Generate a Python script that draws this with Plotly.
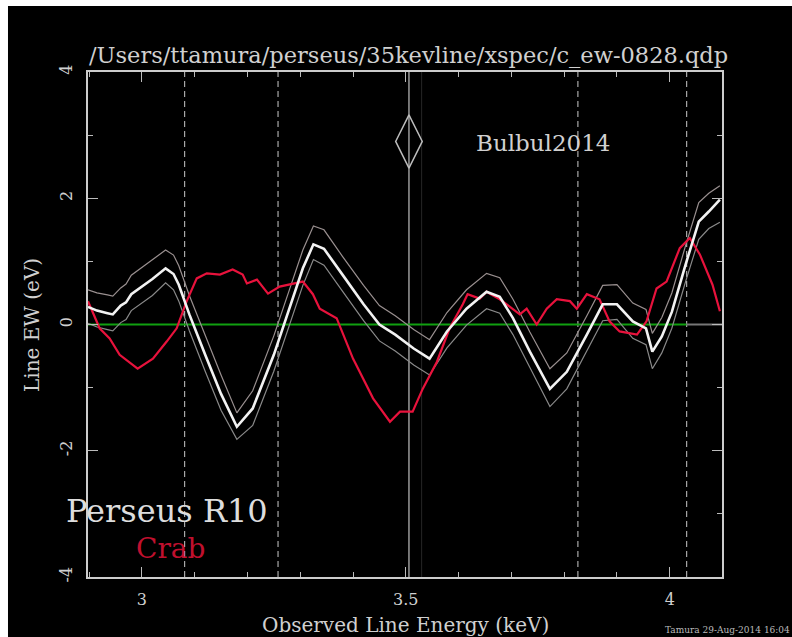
import plotly.graph_objects as go

# ---------------- data ----------------
white_E = [2.898, 2.915, 2.935, 2.945, 2.960, 2.970, 2.980, 3.000, 3.020, 3.045, 3.060, 3.070,
           3.090, 3.120, 3.150, 3.180, 3.210, 3.250, 3.280, 3.305, 3.325, 3.345, 3.380, 3.420,
           3.450, 3.480, 3.515, 3.545, 3.578, 3.615, 3.653, 3.678, 3.703, 3.735, 3.773, 3.805,
           3.843, 3.873, 3.900, 3.930, 3.955, 3.967, 3.985, 4.004, 4.030, 4.055, 4.074, 4.095]
white_EW = [0.28, 0.22, 0.18, 0.16, 0.30, 0.35, 0.48, 0.60, 0.72, 0.89, 0.80, 0.63,
            0.16, -0.48, -1.10, -1.62, -1.33, -0.48, 0.25, 0.89, 1.27, 1.20, 0.79, 0.32,
            0.00, -0.16, -0.38, -0.54, -0.11, 0.25, 0.52, 0.44, 0.10, -0.43, -1.02, -0.75,
            -0.16, 0.32, 0.32, 0.05, -0.06, -0.43, -0.19, 0.20, 0.95, 1.63, 1.79, 1.98]
upper_EW = [0.55, 0.50, 0.47, 0.45, 0.58, 0.64, 0.78, 0.90, 1.02, 1.18, 1.10, 0.93,
            0.46, -0.18, -0.80, -1.40, -1.05, -0.18, 0.55, 1.18, 1.56, 1.50, 1.08, 0.62,
            0.30, 0.14, -0.08, -0.24, 0.19, 0.55, 0.81, 0.74, 0.40, -0.12, -0.70, -0.45,
            0.14, 0.62, 0.63, 0.34, 0.24, -0.14, 0.11, 0.50, 1.25, 1.93, 2.08, 2.20]
lower_EW = [0.02, -0.04, -0.08, -0.10, 0.03, 0.08, 0.22, 0.34, 0.46, 0.66, 0.55, 0.37,
            -0.10, -0.74, -1.36, -1.82, -1.60, -0.74, -0.01, 0.62, 1.03, 0.94, 0.53, 0.06,
            -0.26, -0.42, -0.64, -0.80, -0.37, -0.01, 0.25, 0.18, -0.16, -0.69, -1.30, -1.02,
            -0.42, 0.06, 0.08, -0.22, -0.32, -0.70, -0.45, -0.06, 0.68, 1.35, 1.52, 1.62]

crab_E = [2.898, 2.920, 2.939, 2.958, 2.992, 3.021, 3.047, 3.066, 3.085, 3.104, 3.123, 3.148,
          3.172, 3.191, 3.199, 3.218, 3.239, 3.261, 3.305, 3.324, 3.337, 3.369, 3.400, 3.438,
          3.470, 3.489, 3.513, 3.532, 3.559, 3.583, 3.608, 3.617, 3.640, 3.653, 3.678, 3.703,
          3.716, 3.729, 3.748, 3.767, 3.786, 3.811, 3.824, 3.843, 3.867, 3.886, 3.905, 3.938,
          3.956, 3.975, 3.994, 4.019, 4.038, 4.057, 4.081, 4.095]
crab_EW = [0.37, -0.06, -0.22, -0.48, -0.70, -0.54, -0.27, -0.06, 0.37, 0.73, 0.81, 0.79,
           0.87, 0.79, 0.65, 0.71, 0.49, 0.60, 0.68, 0.48, 0.25, 0.10, -0.54, -1.17,
           -1.54, -1.38, -1.38, -1.02, -0.59, -0.06, 0.32, 0.48, 0.41, 0.52, 0.40, 0.25,
           0.16, 0.25, 0.00, 0.25, 0.40, 0.37, 0.25, 0.48, 0.40, 0.05, -0.11, -0.16,
           0.05, 0.57, 0.68, 1.21, 1.37, 1.11, 0.63, 0.21]

zero_green_E = [2.898, 4.032]
zero_grey_E = [4.032, 4.099]

dashed_line_E = [3.081, 3.258, 3.826, 4.032]
bulbul_line_E = [3.506]
faint_line_E = [3.530]
bulbul_point = (3.506, 2.9)

x_ticks = [3, 3.5, 4]
x_ticklabels = ["3", "3.5", "4"]
y_ticks = [-4, -2, 0, 2, 4]
y_ticklabels = ["-4", "-2", "0", "2", "4"]

FONT = "DejaVu Serif"
FG = "#d0d0d0"

fig = go.Figure()
fig.add_trace(go.Scatter(x=zero_green_E, y=[0, 0], mode="lines",
                         line=dict(color="#10a010", width=2), showlegend=False))
fig.add_trace(go.Scatter(x=zero_grey_E, y=[0, 0], mode="lines",
                         line=dict(color="#777777", width=2), showlegend=False))
fig.add_trace(go.Scatter(x=white_E, y=lower_EW, mode="lines",
                         line=dict(color="#8a8a8a", width=1.2), showlegend=False))
fig.add_trace(go.Scatter(x=white_E, y=upper_EW, mode="lines",
                         line=dict(color="#9a9090", width=1.2), showlegend=False))
fig.add_trace(go.Scatter(x=crab_E, y=crab_EW, mode="lines",
                         line=dict(color="#e8123c", width=2.2), showlegend=False))
fig.add_trace(go.Scatter(x=white_E, y=white_EW, mode="lines",
                         line=dict(color="#f2f2f2", width=2.6), showlegend=False))
fig.add_trace(go.Scatter(x=[bulbul_point[0]], y=[bulbul_point[1]], mode="markers",
                         marker=dict(symbol="diamond-tall-open", size=38,
                                     color="#bbbbbb", line=dict(color="#bbbbbb", width=1.5)),
                         showlegend=False))

shapes = []
for e in dashed_line_E:
    shapes.append(dict(type="line", xref="x", yref="paper", x0=e, x1=e, y0=0, y1=1,
                       line=dict(color="#a8a8a8", width=1.2, dash="6px,4px"), layer="below"))
for e in bulbul_line_E:
    shapes.append(dict(type="line", xref="x", yref="paper", x0=e, x1=e, y0=0, y1=1,
                       line=dict(color="#9a9a9a", width=1.5), layer="below"))
for e in faint_line_E:
    shapes.append(dict(type="line", xref="x", yref="paper", x0=e, x1=e, y0=0, y1=1,
                       line=dict(color="#262626", width=1), layer="below"))
# white page borders (left and top) of the original screenshot
shapes.append(dict(type="rect", xref="paper", yref="paper", x0=-0.15, x1=-0.1262,
                   y0=-0.2, y1=1.2, fillcolor="white", line=dict(width=0)))
shapes.append(dict(type="rect", xref="paper", yref="paper", x0=-0.15, x1=1.2,
                   y0=1.1307, y1=1.2, fillcolor="white", line=dict(width=0)))


def ann(text, x, y, size, color, **kw):
    d = dict(text=text, x=x, y=y, xref="paper", yref="paper", showarrow=False,
             xanchor="center", yanchor="middle",
             font=dict(family=FONT, size=size, color=color))
    d.update(kw)
    return d


annotations = [
    ann("/Users/ttamura/perseus/35kevline/xspec/c_ew-0828.qdp", 0.506, 1.0337, 22.5, FG),
    ann("Bulbul2014", 0.7177, 0.8594, 23, FG),
    ann("Perseus R10", 0.1246, 0.1300, 32, "#dddddd"),
    ann("Crab", 0.1309, 0.0560, 28, "#c0102e"),
    ann("Observed Line Energy (keV)", 0.5, -0.095, 20, FG),
    ann("Line EW (eV)", -0.0883, 0.499, 20, FG, textangle=-90),
    ann("Tamura 29-Aug-2014 16:04", 0.907, -0.105, 9, "#bbbbbb", xanchor="left"),
]

fig.update_layout(
    width=792, height=637,
    margin=dict(l=88, r=70, t=72, b=60),
    paper_bgcolor="black", plot_bgcolor="black",
    shapes=shapes, annotations=annotations, showlegend=False,
    xaxis=dict(range=[2.898, 4.099], tickvals=x_ticks, ticktext=x_ticklabels,
               ticks="inside", ticklen=10, tickwidth=1.2, tickcolor="#bbbbbb",
               minor=dict(dtick=0.1, tick0=3, ticks="inside", ticklen=5, tickcolor="#bbbbbb"),
               showline=True, linecolor="#cccccc", linewidth=1.5, mirror="ticks",
               showgrid=False, zeroline=False, ticklabelstandoff=7,
               tickfont=dict(family=FONT, size=16, color=FG)),
    yaxis=dict(range=[-4, 4], tickvals=y_ticks, ticktext=y_ticklabels, tickangle=-90,
               ticks="inside", ticklen=10, tickwidth=1.2, tickcolor="#bbbbbb",
               minor=dict(dtick=1, tick0=0, ticks="inside", ticklen=5, tickcolor="#bbbbbb"),
               showline=True, linecolor="#cccccc", linewidth=1.5, mirror="ticks",
               showgrid=False, zeroline=False, ticklabelstandoff=8,
               tickfont=dict(family=FONT, size=16, color=FG)),
)

fig.write_html("out.html")
